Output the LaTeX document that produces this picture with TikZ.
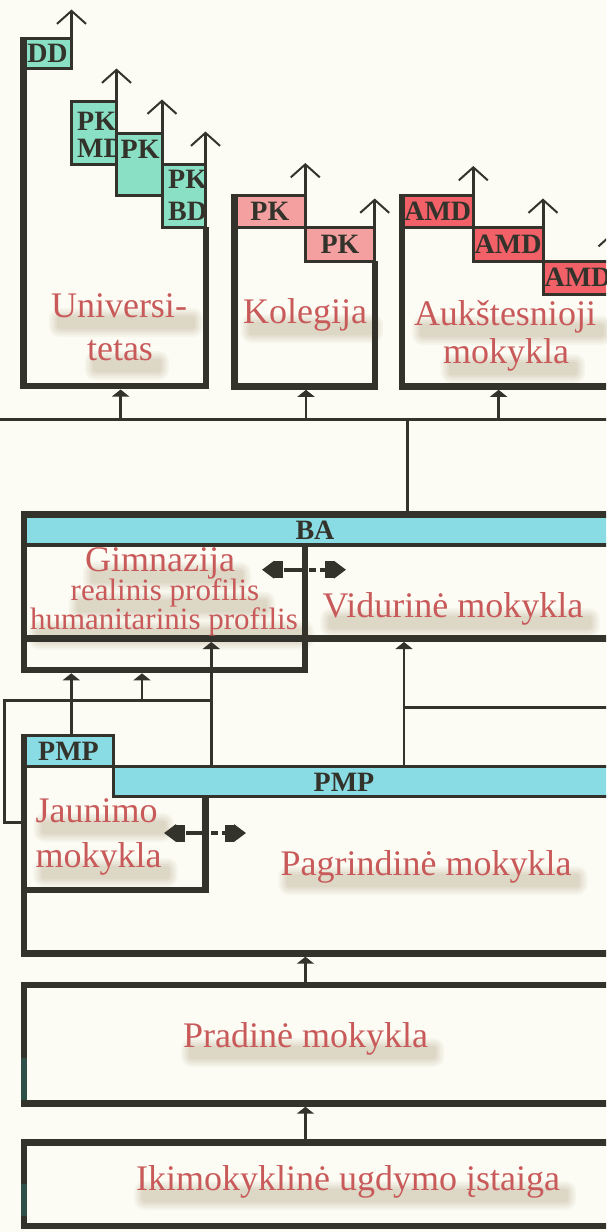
\documentclass[tikz,border=0pt]{standalone}
\usepackage{fontspec}
\setmainfont{Liberation Serif}
\usetikzlibrary{arrows.meta}

\definecolor{paper}{HTML}{FCFCF4}
\definecolor{ink}{HTML}{33332B}
\definecolor{mint}{HTML}{8AE0C4}
\definecolor{sky}{HTML}{8ADCE4}
\definecolor{rose}{HTML}{F4A0A0}
\definecolor{coral}{HTML}{F26068}
\definecolor{namered}{HTML}{C85A5A}
\definecolor{shade}{HTML}{C9BEA8}
\definecolor{tealedge}{HTML}{2F5046}

\pgfdeclarelayer{paperlayer}
\pgfdeclarelayer{shadelayer}
\pgfsetlayers{paperlayer,shadelayer,main}

\tikzset{
  wall/.style={draw=ink, line width=6.5pt},
  tab/.style={draw=ink, line width=3pt},
  tabbox/.style={draw=ink, line width=3pt, inner sep=0pt, outer sep=0pt,
    anchor=north west, text=ink, font=\fontsize{28}{28}\selectfont\bfseries},
  tablbl/.style={text=ink, font=\fontsize{28}{28}\selectfont\bfseries,
    inner sep=0pt, anchor=base west},
  lbl/.style={text=namered, font=\fontsize{36}{36}\selectfont, inner sep=0pt, anchor=base},
  sublbl/.style={font=\fontsize{31}{31}\selectfont},
  goup/.style={draw=ink, line width=3pt,
    -{Straight Barb[length=13pt,width=29pt,line width=2pt]}},
  feed/.style={draw=ink, line width=2.8pt, -{Triangle[length=7pt,width=17pt]}},
  link/.style={draw=ink, line width=3pt},
  swap/.style={draw=ink, line width=4pt,
    dash pattern=on 7pt off 4pt on 21pt off 4pt,
    {Triangle[length=12pt,width=17pt,sep=0pt] Rectangle[length=9pt,width=17pt,sep=0pt]}-{Rectangle[length=9pt,width=17pt,sep=0pt] Triangle[length=12pt,width=17pt,sep=0pt]}},
}

% school name with a soft shadow band below it
\newcommand{\schoolname}[4][]{%
  \node[lbl,#1] (#2) at (#3) {#4};
  \begin{pgfonlayer}{shadelayer}
    \foreach \k [evaluate=\k as \r using 3+2*\k, evaluate=\k as \m using 60-12*\k] in {4,3,2,1,0}
      \fill[shade!\m!paper, rounded corners=\r pt]
        ([shift={(6-2*\k,-1-2*\k)}]#2.base west) rectangle ([shift={(8+2*\k,12+2*\k)}]#2.base east);
  \end{pgfonlayer}}

\begin{document}
\begin{tikzpicture}[x=1pt,y=-1pt]
  \useasboundingbox (0,0) rectangle (606,1232);
  \clip (0,0) rectangle (606,1232);
  \begin{pgfonlayer}{paperlayer}
    \fill[paper] (0,0) rectangle (606,1232);
  \end{pgfonlayer}

  % Universitetas
  \node[tabbox, fill=mint, minimum width=48pt, minimum height=30pt] (dd) at (23.5,38.5) {DD};
  \node[tabbox, fill=mint, minimum width=45pt, minimum height=63pt] (pkmd) at (71.5,101) {};
  \node[tablbl] (pkmd-a) at (77,130) {PK};
  \node[tablbl] (pkmd-b) at (77,157) {MD};
  \node[tabbox, fill=mint, minimum width=45.5pt, minimum height=62.5pt] (pk) at (116.5,133) {};
  \node[tablbl] (pk-a) at (120.5,158) {PK};
  \node[tabbox, fill=mint, minimum width=43.5pt, minimum height=63pt] (pkbd) at (162,164) {};
  \node[tablbl] (pkbd-a) at (168,188) {PK};
  \node[tablbl] (pkbd-b) at (168,220.5) {BD};
  \draw[wall] (23.5,37) -- (23.5,386) -- (206,386) -- (206,227);

  % Kolegija
  \node[tabbox, fill=rose, minimum width=70.8pt, minimum height=31.5pt] (pka) at (234.5,195.5) {PK};
  \node[tabbox, fill=rose, minimum width=69.4pt, minimum height=34pt] (pkb) at (305.3,227) {PK};
  \draw[wall] (234.5,194) -- (234.5,386.5) -- (375,386.5) -- (375,261);

  % Aukstesnioji mokykla
  \node[tabbox, fill=coral, minimum width=71.1pt, minimum height=31.5pt] (amda) at (402.2,195.5) {AMD};
  \node[tabbox, fill=coral, minimum width=69.7pt, minimum height=34pt] (amdb) at (473.3,227) {AMD};
  \node[tabbox, fill=coral, minimum width=70pt, minimum height=33pt] (amdc) at (543,261) {AMD};
  \draw[wall] (402.2,194) -- (402.2,386.5) -- (630,386.5);

  \foreach \t/\h in {dd/29,pkmd/32.5,pk/33.5,pkbd/32.5,pka/32.5,pkb/28.5,amda/29.5,amdb/28.5,amdc/29}
    \draw[goup] (\t.north east) -- ([yshift=\h pt]\t.north east);

  \schoolname{univ-a}{119,317}{Universi-}
  \schoolname{univ-b}{120,360}{tetas}
  \schoolname{kol}{305,323}{Kolegija}
  \schoolname{auk-a}{505,325}{Aukštesnioji}
  \schoolname{auk-b}{506,363}{mokykla}

  % bus line under the top row
  \coordinate (bus-w) at (-5,419.3);
  \coordinate (bus-e) at (630,419.3);
  \coordinate (univ-in) at (120.6,389.5);
  \coordinate (kol-in) at (306,389.8);
  \coordinate (auk-in) at (498.6,389.8);
  \draw[link] (bus-w) -- (bus-e);
  \foreach \p in {univ-in,kol-in,auk-in}
    \draw[feed] (\p |- bus-w) -- (\p);

  % BA: gimnazija + viduriné mokykla
  \fill[sky] (24,514.3) rectangle (630,545.3);
  \draw[ink, line width=4pt] (24,545.3) -- (630,545.3);
  \draw[wall] (630,514.3) -- (24,514.3) -- (24,670) -- (304.8,670) -- (304.8,545.3);
  \draw[wall] (24,638.7) -- (630,638.7);
  \node[tablbl, anchor=base] (ba) at (315,539) {BA};
  \coordinate (ba-top) at (407.8,514.3);
  \draw[link] (ba-top |- bus-w) -- (ba-top);

  \schoolname{gim}{160,571}{Gimnazija}
  \schoolname[sublbl]{gim-r}{165,600.5}{realinis profilis}
  \schoolname[sublbl]{gim-h}{164,629.5}{humanitarinis profilis}
  \schoolname{vid}{453,617}{Vidurinė mokykla}
  \coordinate (gim-swap) at (262,569.7);
  \coordinate (vid-swap) at (346,569.7);
  \draw[swap] (gim-swap) -- (vid-swap);

  % PMP: jaunimo + pagrindiné mokykla
  \fill[sky] (113.3,766) rectangle (630,796.7);
  \draw[tab] (630,766) -- (113.3,766) -- (113.3,796.7) -- (630,796.7);
  \node[tabbox, fill=sky, minimum width=89.6pt, minimum height=30.3pt] (pmp) at (23.7,735.7) {PMP};
  \node[tablbl, anchor=base] (pmp-b) at (344,791.7) {PMP};
  \draw[wall] (24,734) -- (24,953.3) -- (630,953.3);
  \draw[wall] (24,890) -- (205.5,890) -- (205.5,796.7);

  \schoolname[anchor=base west]{jau-a}{35.5,822}{Jaunimo}
  \schoolname[anchor=base west]{jau-b}{35.5,867}{mokykla}
  \schoolname{pag}{426,875}{Pagrindinė mokykla}
  \coordinate (jau-swap) at (164,833);
  \coordinate (pag-swap) at (246,833);
  \draw[swap] (jau-swap) -- (pag-swap);

  % links between BA and PMP
  \coordinate (gim-in-a) at (71.3,673.3);
  \coordinate (gim-in-b) at (142,673.3);
  \coordinate (gim-in-c) at (211.3,642);
  \coordinate (vid-in) at (404,642);
  \coordinate (lane) at (4.7,700);
  \coordinate (pmp-a) at (211.3,766);
  \coordinate (pmp-c) at (404,766);
  \coordinate (jau-out) at (20.7,822);
  \coordinate (east) at (630,707);
  \draw[feed] (pmp.north -| gim-in-a) -- (gim-in-a);
  \draw[feed] (gim-in-b |- lane) -- (gim-in-b);
  \draw[feed] (pmp-a) -- (gim-in-c);
  \draw[link] (jau-out) -| (lane) -- (lane -| pmp-a);
  \draw[feed] (pmp-c) -- (vid-in);
  \draw[link] (east) -- (east -| vid-in);

  % Pradine mokykla, Ikimokykline istaiga
  \draw[wall] (630,985) -- (24,985) -- (24,1103.3) -- (630,1103.3);
  \draw[wall] (630,1142.3) -- (24,1142.3) -- (24,1226) -- (630,1226);
  \draw[tealedge, line width=6.5pt] (24,1058) -- (24,1100) (24,1184) -- (24,1216);
  \schoolname{pra}{305.5,1047}{Pradinė mokykla}
  \schoolname{iki}{348,1190}{Ikimokyklinė ugdymo įstaiga}

  \coordinate (pag-in) at (305.4,956.7);
  \coordinate (pra-top) at (305.4,985);
  \coordinate (pra-in) at (305.4,1106.7);
  \coordinate (iki-top) at (305.4,1142.3);
  \draw[feed] (pra-top) -- (pag-in);
  \draw[feed] (iki-top) -- (pra-in);
\end{tikzpicture}
\end{document}
